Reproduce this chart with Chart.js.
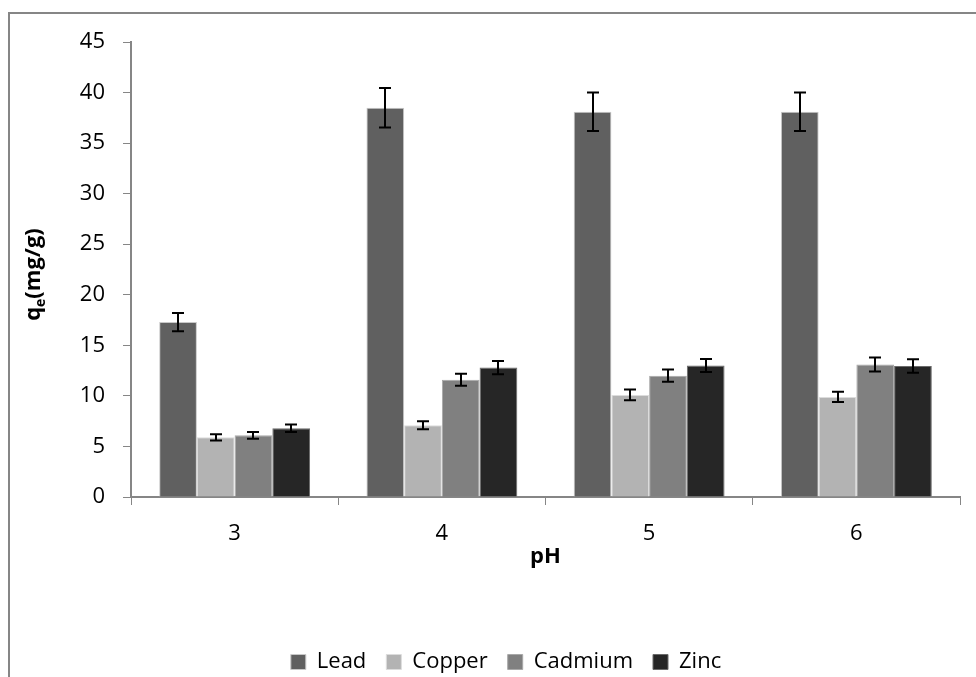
<!DOCTYPE html>
<html>
<head>
<meta charset="utf-8">
<script src="https://cdn.jsdelivr.net/npm/chart.js@4/dist/chart.umd.min.js"></script>
<style>
  html, body { margin: 0; padding: 0; background: #fff; }
  #wrap { position: relative; width: 976px; height: 677px; }
</style>
</head>
<body>
<div id="wrap"><canvas id="c" width="976" height="677"></canvas></div>
<script>
// pH levels tested
const phLevels = ['3', '4', '5', '6'];

// Adsorption capacity q_e (mg/g) for each metal, with standard deviations
const lead       = [17.3, 38.5, 38.1, 38.1];
const leadErr    = [0.9, 1.95, 1.9, 1.9];
const copper     = [5.9, 7.1, 10.1, 9.9];
const copperErr  = [0.3, 0.4, 0.53, 0.5];
const cadmium    = [6.1, 11.6, 12.0, 13.1];
const cadmiumErr = [0.33, 0.6, 0.6, 0.7];
const zinc       = [6.8, 12.8, 13.0, 12.95];
const zincErr    = [0.37, 0.65, 0.64, 0.67];

// Value axis range
const yMin = 0, yMax = 45, yStep = 5;

const FONT = '"Open Sans", "Liberation Sans", sans-serif';
const AXIS_GREY = '#868686';

// Outer frame around the whole figure
const framePlugin = {
  id: 'frame',
  beforeDraw(chart) {
    const ctx = chart.ctx;
    ctx.save();
    ctx.fillStyle = '#fff';
    ctx.fillRect(0, 0, chart.width, chart.height);
    ctx.strokeStyle = AXIS_GREY;
    ctx.lineWidth = 2;
    ctx.strokeRect(9, 13, chart.width + 40, chart.height + 40);
    ctx.restore();
  }
};

// Vertical error bars with caps, one per bar
const errorBarPlugin = {
  id: 'errorBars',
  afterDatasetsDraw(chart) {
    const ctx = chart.ctx;
    const yScale = chart.scales.y;
    ctx.save();
    ctx.strokeStyle = '#000';
    ctx.lineWidth = 2;
    chart.data.datasets.forEach((ds, di) => {
      const meta = chart.getDatasetMeta(di);
      meta.data.forEach((bar, i) => {
        const v = ds.data[i], e = ds.errors[i];
        const x = Math.round(bar.x);
        const yTop = yScale.getPixelForValue(v + e);
        const yBot = yScale.getPixelForValue(v - e);
        const cap = 6;
        ctx.beginPath();
        ctx.moveTo(x, yTop); ctx.lineTo(x, yBot);
        ctx.moveTo(x - cap, yTop); ctx.lineTo(x + cap, yTop);
        ctx.moveTo(x - cap, yBot); ctx.lineTo(x + cap, yBot);
        ctx.stroke();
      });
    });
    ctx.restore();
  }
};

// Axis titles: subscripted q_e on the value axis, pH under the categories
const axisTitlePlugin = {
  id: 'axisTitles',
  afterDraw(chart) {
    const ctx = chart.ctx;
    const area = chart.chartArea;
    ctx.save();
    ctx.fillStyle = '#000';
    // x title
    ctx.font = 'bold 22px ' + FONT;
    ctx.textAlign = 'center';
    ctx.textBaseline = 'middle';
    ctx.fillText('pH', (area.left + area.right) / 2, area.bottom + 60);
    // y title
    ctx.translate(34, (area.top + area.bottom) / 2 + 5);
    ctx.rotate(-Math.PI / 2);
    ctx.textAlign = 'left';
    const big = 'bold 22px ' + FONT, small = 'bold 14px ' + FONT;
    ctx.font = big; const wq = ctx.measureText('q').width;
    const wr = ctx.measureText('(mg/g)').width;
    ctx.font = small; const we = ctx.measureText('e').width;
    let x = -(wq + we + wr) / 2;
    ctx.font = big; ctx.fillText('q', x, 0); x += wq;
    ctx.font = small; ctx.fillText('e', x, 7); x += we;
    ctx.font = big; ctx.fillText('(mg/g)', x, 0);
    ctx.restore();
  }
};

// Nudge the legend row under the plot
const legendShiftPlugin = {
  id: 'legendShift',
  afterLayout(chart) {
    const lg = chart.legend;
    if (!lg) return;
    lg.left += 26; lg.right += 26;
    lg.top += 6; lg.bottom += 6;
  }
};

function series(label, data, errors, fill, edge) {
  return {
    label, data, errors,
    backgroundColor: fill,
    borderColor: edge,
    borderWidth: 1,
    categoryPercentage: 0.728,
    barPercentage: 1.0
  };
}

new Chart(document.getElementById('c'), {
  type: 'bar',
  data: {
    labels: phLevels,
    datasets: [
      series('Lead', lead, leadErr, '#606060', '#c8c8c8'),
      series('Copper', copper, copperErr, '#b3b3b3', '#dcdcdc'),
      series('Cadmium', cadmium, cadmiumErr, '#808080', '#a8a8a8'),
      series('Zinc', zinc, zincErr, '#262626', '#6a6a6a')
    ]
  },
  options: {
    responsive: false,
    devicePixelRatio: 1,
    animation: false,
    layout: { padding: { left: 0, right: 16, top: 42, bottom: 0 } },
    plugins: {
      legend: {
        position: 'bottom',
        labels: {
          font: { family: FONT, size: 22 },
          color: '#000',
          boxWidth: 15,
          boxHeight: 15,
          padding: 20,
          useBorderRadius: false
        }
      },
      tooltip: { enabled: false }
    },
    scales: {
      x: {
        grid: { display: true, drawOnChartArea: false, offset: true, color: AXIS_GREY, tickLength: 8, tickColor: AXIS_GREY },
        border: { display: true, color: AXIS_GREY, width: 2 },
        ticks: { font: { family: FONT, size: 22 }, color: '#000', padding: 16 },
        afterFit(scale) { scale.height = 128; }
      },
      y: {
        min: yMin, max: yMax,
        grid: { display: true, drawOnChartArea: false, color: AXIS_GREY, tickLength: 8, tickColor: AXIS_GREY },
        border: { display: true, color: AXIS_GREY, width: 2 },
        ticks: { stepSize: yStep, font: { family: FONT, size: 22 }, color: '#000', padding: 18 },
        afterFit(scale) { scale.width = 131; }
      }
    }
  },
  plugins: [framePlugin, errorBarPlugin, axisTitlePlugin, legendShiftPlugin]
});
</script>
</body>
</html>
